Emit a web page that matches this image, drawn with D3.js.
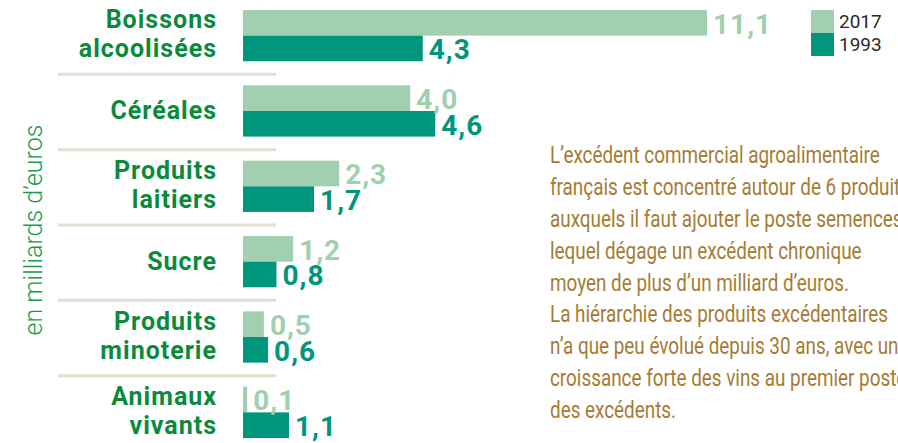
<!DOCTYPE html>
<html>
<head>
<meta charset="utf-8">
<script src="https://cdn.jsdelivr.net/npm/d3@7"></script>
<style>
  body { margin: 0; background: #fff; overflow: hidden; }
  svg { display: block; font-family: Roboto, sans-serif; }
</style>
</head>
<body>
<svg id="chart" width="898" height="443"></svg>
<script>
// DATA
var categories = [["Boissons", "alcoolisées"], ["Céréales"], ["Produits", "laitiers"], ["Sucre"], ["Produits", "minoterie"], ["Animaux", "vivants"]];
var years = ["2017", "1993"];
var values2017 = [11.1, 4.0, 2.3, 1.2, 0.5, 0.1];
var values1993 = [4.3, 4.6, 1.7, 0.8, 0.6, 1.1];
var axisTitle = "en milliards d\u2019euros";
var note = [
  "L\u2019excédent commercial agroalimentaire",
  "français est concentré autour de 6 produits",
  "auxquels il faut ajouter le poste semences",
  "lequel dégage un excédent chronique",
  "moyen de plus d\u2019un milliard d\u2019euros.",
  "La hiérarchie des produits excédentaires",
  "n\u2019a que peu évolué depuis 30 ans, avec une",
  "croissance forte des vins au premier poste",
  "des excédents."
];

var colors = { "2017": "#a0d0b0", "1993": "#00967c" };
var svg = d3.select("#chart");
var keys = categories.map(function(c) { return c.join(" "); });

// scales
var x = d3.scaleLinear().domain([0, 11.1]).range([243, 707]);
var y0 = d3.scaleBand().domain(keys).range([10, 438]).paddingInner(0.32).paddingOuter(0);
var y1 = d3.scaleBand().domain(years).range([0, y0.bandwidth()]);

var rows = keys.map(function(k, i) {
  return { key: k, lines: categories[i], vals: [
    { year: "2017", v: values2017[i] },
    { year: "1993", v: values1993[i] }
  ] };
});

// separators
svg.selectAll("line.sep")
  .data(keys.slice(0, -1))
  .enter().append("line")
  .attr("class", "sep")
  .attr("x1", 58).attr("x2", 276)
  .attr("y1", function(d) { return y0(d) + y0.bandwidth() + y0.step() * 0.16 + 1; })
  .attr("y2", function(d) { return y0(d) + y0.bandwidth() + y0.step() * 0.16 + 1; })
  .attr("stroke", "#e6ded3")
  .attr("stroke-width", 3);

var g = svg.selectAll("g.row")
  .data(rows)
  .enter().append("g")
  .attr("class", "row")
  .attr("transform", function(d) { return "translate(0," + y0(d.key) + ")"; });

g.selectAll("rect")
  .data(function(d) { return d.vals; })
  .enter().append("rect")
  .attr("x", x(0))
  .attr("y", function(d) { return y1(d.year); })
  .attr("width", function(d) { return x(d.v) - x(0); })
  .attr("height", y1.bandwidth())
  .attr("fill", function(d) { return colors[d.year]; });

g.selectAll("text.val")
  .data(function(d) { return d.vals; })
  .enter().append("text")
  .attr("class", "val")
  .attr("x", function(d) { return x(d.v) + 6; })
  .attr("y", function(d) { return y1(d.year) + y1.bandwidth() - 2; })
  .attr("fill", function(d) { return colors[d.year]; })
  .attr("font-size", 28)
  .attr("font-weight", 700)
  .attr("letter-spacing", 1)
  .text(function(d) { return d3.format(".1f")(d.v).replace(".", ","); });

// category labels
g.each(function(d) {
  var mid = y0.bandwidth() / 2;
  var lab = d3.select(this).append("g")
    .attr("transform", "translate(217,0)");
  d.lines.forEach(function(line, j) {
    var yy = d.lines.length === 1 ? mid + 8 : mid + (j === 0 ? -7.5 : 21.5);
    lab.append("text")
      .attr("x", 0).attr("y", yy)
      .attr("text-anchor", "end")
      .attr("fill", "#0a8a3c")
      .attr("font-size", 25)
      .attr("font-weight", 700)
      .attr("letter-spacing", 1)
      .text(line);
  });
});

// axis title
svg.append("text")
  .attr("transform", "translate(42,230) rotate(-90)")
  .attr("text-anchor", "middle")
  .attr("fill", "#1a9a50")
  .attr("font-size", 25)
  .attr("font-weight", 300)
  .text(axisTitle);

// legend
var leg = svg.selectAll("g.leg")
  .data(years)
  .enter().append("g")
  .attr("class", "leg")
  .attr("transform", function(d, i) { return "translate(811," + (10 + i * 23) + ")"; });
leg.append("rect").attr("width", 23).attr("height", 23).attr("fill", function(d) { return colors[d]; });
leg.append("text")
  .attr("x", 28).attr("y", 18)
  .attr("fill", "#2a2a2a")
  .attr("font-size", 19)
  .text(function(d) { return d; });

// note paragraph
var noteG = svg.append("g");
var noteText = noteG.selectAll("text")
  .data(note)
  .enter().append("text")
  .attr("x", 0)
  .attr("y", function(d, i) { return 163 + i * 31.9; })
  .attr("fill", "#a57c34")
  .attr("font-size", 23.5)
  .text(function(d) { return d; });
var w0 = noteText.node().getComputedTextLength();
var sx = 330 / w0;
noteG.attr("transform", "translate(550,0) scale(" + sx + ",1)");
</script>
</body>
</html>
